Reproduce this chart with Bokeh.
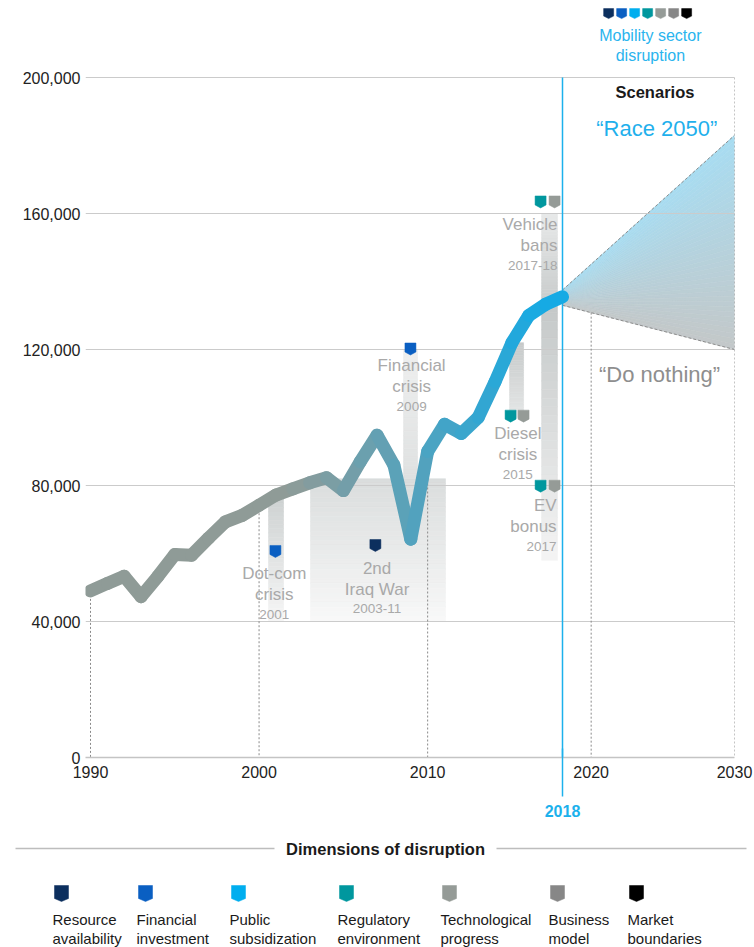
import numpy as np
from bokeh.plotting import figure
from bokeh.models import Range1d, FixedTicker, NumeralTickFormatter, LinearAxis
from bokeh.layouts import column
from bokeh.embed import file_html
from bokeh.resources import INLINE
from bokeh.core.properties import value

FONT = "Liberation Sans"

# ------------------------------------------------------------------ data
years = list(range(1990, 2019))
registrations = [49000, 51200, 53300, 47300, 53300, 59700, 59500, 64500, 69300, 71200,
                 74200, 77200, 79000, 80800, 82300, 78500, 87000, 94800, 86000, 64200,
                 90000, 98000, 95300, 100000, 110500, 122000, 130000, 133300, 135500]

y_ticks = [0, 40000, 80000, 120000, 160000, 200000]
x_tick_years = [1990, 2000, 2010, 2020, 2030]
drop_line_years = [1990, 2000, 2010]
today_year = 2018

scenario_years = [2018, 2030]
race_2050 = [137500, 183000]
do_nothing = [133000, 120000]

event_titles = [("Dot-com", "crisis"), ("2nd", "Iraq War"), ("Financial", "crisis"),
                ("Diesel", "crisis"), ("EV", "bonus"), ("Vehicle", "bans")]
event_periods = ["2001", "2003-11", "2009", "2015", "2017", "2017-18"]
event_start = [2000.56, 2003.05, 2008.57, 2014.86, 2016.76, 2016.76]
event_end = [2001.45, 2011.06, 2009.40, 2015.69, 2017.70, 2017.70]
event_band_top = [77200, 82000, 120000, 122000, 133300, 160000]
event_band_bottom = [40000, 40000, 82000, 100000, 58000, 133300]
event_label_x = [2000.9, 2007.0, 2009.05, 2015.35, 2017.65, 2017.7]
event_label_y = [54000, 55700, 115200, 95150, 74000, 156700]

marker_x = [2000.97, 2006.9, 2008.98, 2014.92, 2015.69, 2016.7, 2017.53, 2016.7, 2017.53]
marker_y = [60600, 62350, 120150, 100400, 100400, 79800, 79800, 163400, 163400]
marker_dim = [1, 0, 1, 3, 4, 3, 4, 3, 4]

dimension_names = [("Resource", "availability"), ("Financial", "investment"),
                   ("Public", "subsidization"), ("Regulatory", "environment"),
                   ("Technological", "progress"), ("Business", "model"),
                   ("Market", "boundaries")]

# ------------------------------------------------------------------ styles
dimension_colors = ["#0c2f5e", "#0a5fc2", "#00aeef", "#00979e", "#959b97", "#878787", "#000000"]
event_label_align = ["center", "center", "center", "center", "right", "right"]
band_colors = [("#cdd1d1", "#f6f6f6"), ("#dadddd", "#f8f8f8"), ("#eeefef", "#dfe1e1"),
               ("#c6caca", "#e6e7e7"), ("#c4c8c8", "#f4f4f4"), ("#e8e9e9", "#c8cccc")]
BLUE = "#1cb1ec"
LABEL_GRAY = "#a9a9a9"
LINE_GRAY = "#8f9b97"
LINE_BLUE = "#16aae4"

# ------------------------------------------------------------------ layout constants
W = 754
H1, H2 = 825, 122
BORDER_L, BORDER_R, BORDER_B = 85, 20, 68
FRAME_W = W - BORDER_L - BORDER_R
FRAME_H = H1 - BORDER_B
PX_PER_YEAR = 472 / 28
UNITS_PER_PX = 200000 / 680
Y_START = 0
Y_END = Y_START + FRAME_H * UNITS_PER_PX
X0 = 1990 - 5 / PX_PER_YEAR
X1 = X0 + FRAME_W / PX_PER_YEAR
TODAY_PX = (today_year - X0) * PX_PER_YEAR
SCEN_PX = (FRAME_W - TODAY_PX) / (scenario_years[1] - scenario_years[0])
S0 = today_year - TODAY_PX / SCEN_PX
S1 = scenario_years[1]


def scen_to_main(s):
    return X0 + (s - S0) * SCEN_PX / PX_PER_YEAR


def hex2rgb(h):
    h = h.lstrip("#")
    return tuple(int(h[i:i + 2], 16) for i in (0, 2, 4))


def mix(a, b, t):
    a, b = hex2rgb(a), hex2rgb(b)
    return "#%02x%02x%02x" % tuple(int(round(a[i] + (b[i] - a[i]) * t)) for i in range(3))


def badge(xc, yc, w, h, tip, px_x, px_y):
    """pentagon 'pennant' marker, sizes in px converted to data units"""
    dx = w / 2 / px_x
    top = yc + h / 2 * px_y
    bot = yc - h / 2 * px_y
    sh = bot + tip * px_y
    return [xc - dx, xc + dx, xc + dx, xc, xc - dx], [top, top, sh, bot, sh]


# ------------------------------------------------------------------ main figure
p = figure(width=W, height=H1, x_range=Range1d(X0, X1), y_range=Range1d(Y_START, Y_END),
           output_backend="svg", toolbar_location=None,
           min_border_left=BORDER_L, min_border_right=BORDER_R,
           min_border_top=0, min_border_bottom=BORDER_B,
           outline_line_color=None, border_fill_color="white", background_fill_color="white")
p.frame_align = False
p.extra_x_ranges = {"scen": Range1d(S0, S1)}

# x axis (history scale up to 2018, compressed scenario scale afterwards)
xt = []
for yr in x_tick_years:
    t = float(yr) if yr <= today_year else min(scen_to_main(yr), X1 - 1e-6)
    xt.append(round(t, 6))
ax = p.xaxis[0]
ax.ticker = FixedTicker(ticks=xt)
ax.major_label_overrides = {t: str(yr) for t, yr in zip(xt, x_tick_years)}
ax.axis_line_color = "#c4c4c4"
ax.axis_line_width = 1.5
ax.major_tick_line_color = None
ax.major_tick_out = 0
ax.major_tick_in = 0
ax.minor_tick_line_color = None
ax.minor_tick_out = 0
ax.minor_tick_in = 0
ax.major_label_text_font = FONT
ax.major_label_text_font_size = "16px"
ax.major_label_text_color = "#222222"
ax.major_label_standoff = 8

# second axis marking today (blue tick crossing below the axis)
ax2 = LinearAxis(ticker=FixedTicker(ticks=[today_year]))
ax2.axis_line_color = None
ax2.major_tick_line_color = BLUE
ax2.major_tick_line_width = 1.5
ax2.major_tick_in = 32
ax2.major_tick_out = 16
ax2.minor_tick_line_color = None
ax2.major_label_text_font = FONT
ax2.major_label_text_font_size = "16px"
ax2.major_label_text_font_style = "bold"
ax2.major_label_text_color = BLUE
ax2.major_label_standoff = 8
p.add_layout(ax2, "below")

ay = p.yaxis[0]
ay.ticker = FixedTicker(ticks=y_ticks)
ay.formatter = NumeralTickFormatter(format="0,0")
ay.axis_line_color = None
ay.major_tick_line_color = None
ay.minor_tick_line_color = None
ay.major_tick_out = 0
ay.major_tick_in = 0
ay.major_label_text_font = FONT
ay.major_label_text_font_size = "16px"
ay.major_label_text_color = "#222222"
ay.major_label_standoff = 5

p.xgrid.visible = False
p.ygrid[0].ticker = FixedTicker(ticks=y_ticks[1:])
p.ygrid.grid_line_color = "#cbcbcb"
p.ygrid.grid_line_width = 1

# event bands (vertical gradients)
NS = 30
bl, br, bt, bb, bc = [], [], [], [], []
for i in range(len(event_start)):
    edges = np.linspace(event_band_top[i], event_band_bottom[i], NS + 1)
    for k in range(NS):
        bl.append(event_start[i]); br.append(event_end[i])
        bt.append(edges[k]); bb.append(edges[k + 1])
        bc.append(mix(band_colors[i][0], band_colors[i][1], (k + 0.5) / NS))
p.quad(left=bl, right=br, top=bt, bottom=bb, fill_color=bc, line_color=bc,
       line_width=0.6, level="image")

# scenario cone (gradient from light blue to grey)
NC = 40
cx, cy, cc = [], [], []
for k in range(NC):
    f0, f1 = k / NC, (k + 1) / NC
    l0 = race_2050[0] + (do_nothing[0] - race_2050[0]) * f0
    l1 = race_2050[0] + (do_nothing[0] - race_2050[0]) * f1
    r0 = race_2050[1] + (do_nothing[1] - race_2050[1]) * f0
    r1 = race_2050[1] + (do_nothing[1] - race_2050[1]) * f1
    cx.append([scenario_years[0], scenario_years[1], scenario_years[1], scenario_years[0]])
    cy.append([l0, r0, r1, l1])
    cc.append(mix("#a8dcf1", "#c3c8c9", (k + 0.5) / NC))
p.patches(xs=cx, ys=cy, fill_color=cc, line_color=cc, line_width=0.6,
          x_range_name="scen", level="image")
p.segment(x0=[scenario_years[0]] * 2, x1=[scenario_years[1]] * 2,
          y0=[race_2050[0], do_nothing[0]], y1=[race_2050[1], do_nothing[1]],
          line_color="#8c8c8c", line_width=1, line_dash="3 2", x_range_name="scen")

# dashed drop lines
reg = dict(zip(years, registrations))
p.segment(x0=drop_line_years, x1=drop_line_years,
          y0=[reg[y] for y in drop_line_years], y1=[Y_START] * len(drop_line_years),
          line_color="#8a8a8a", line_width=1, line_dash="2 2")
dn2020 = do_nothing[0] + (do_nothing[1] - do_nothing[0]) * (2020 - scenario_years[0]) / (scenario_years[1] - scenario_years[0])
p.segment(x0=[2020, scenario_years[1]], x1=[2020, scenario_years[1]],
          y0=[dn2020, y_ticks[-1]], y1=[Y_START, Y_START],
          line_color="#8a8a8a", line_width=1, line_dash="2 2", x_range_name="scen")

# 2018 line
p.segment(x0=[today_year], x1=[today_year], y0=[y_ticks[-1]], y1=[Y_START],
          line_color=BLUE, line_width=1.5)

# main line with colour gradient
seg_col = []
for a, b in zip(years[:-1], years[1:]):
    t = min(max(((a + b) / 2 - 2002) / 15, 0), 1)
    seg_col.append(mix(LINE_GRAY, LINE_BLUE, t))
p.segment(x0=years[:-1], x1=years[1:], y0=registrations[:-1], y1=registrations[1:],
          line_color=seg_col, line_width=13, line_cap="round")

# event markers
mxs, mys, mcs = [], [], []
for x, y, d in zip(marker_x, marker_y, marker_dim):
    xs, ys = badge(x, y, 11, 12, 3, PX_PER_YEAR, UNITS_PER_PX)
    mxs.append(xs); mys.append(ys); mcs.append(dimension_colors[d])
p.patches(xs=mxs, ys=mys, fill_color=mcs, line_color=mcs, line_width=0.5)

# event labels
for i in range(len(event_titles)):
    ys = [event_label_y[i], event_label_y[i] - 21 * UNITS_PER_PX]
    p.text(x=[event_label_x[i]] * 2, y=ys, text=list(event_titles[i]),
           text_font=value(FONT), text_font_size="17px", text_color=LABEL_GRAY,
           text_align=event_label_align[i], text_baseline="middle")
    p.text(x=[event_label_x[i]], y=[ys[1] - 19.5 * UNITS_PER_PX], text=[event_periods[i]],
           text_font=value(FONT), text_font_size="13.5px", text_color=LABEL_GRAY,
           text_align=event_label_align[i], text_baseline="middle")

# scenario texts
p.text(x=[2024.45], y=[195600], text=["Scenarios"], text_font=value(FONT),
       text_font_size="16.5px", text_font_style="bold", text_color="#1a1a1a",
       text_align="center", text_baseline="middle", x_range_name="scen")
p.text(x=[2024.58], y=[185000], text=["\u201cRace 2050\u201d"], text_font=value(FONT),
       text_font_size="22px", text_color="#1fb0ec",
       text_align="center", text_baseline="middle", x_range_name="scen")
p.text(x=[2024.77], y=[112650], text=["\u201cDo nothing\u201d"], text_font=value(FONT),
       text_font_size="22px", text_color="#8e8e8e",
       text_align="center", text_baseline="middle", x_range_name="scen")
p.text(x=[2024.13, 2024.13], y=[212350, 206450], text=["Mobility sector", "disruption"],
       text_font=value(FONT), text_font_size="16px", text_color="#2ab4ee",
       text_align="center", text_baseline="middle", x_range_name="scen")

# mini key of dimensions (top right)
kxs, kys = [], []
n = len(dimension_colors)
for i in range(n):
    xc = 2023.94 + (i - (n - 1) / 2) * 13 / SCEN_PX
    xs, ys = badge(xc, 218800, 10, 10, 2.5, SCEN_PX, UNITS_PER_PX)
    kxs.append(xs); kys.append(ys)
p.patches(xs=kxs, ys=kys, fill_color=dimension_colors, line_color=dimension_colors,
          line_width=0.5, x_range_name="scen")

# ------------------------------------------------------------------ legend figure
q = figure(width=W, height=H2, x_range=Range1d(0, W), y_range=Range1d(H2, 0),
           output_backend="svg", toolbar_location=None, x_axis_type=None, y_axis_type=None,
           min_border=0, outline_line_color=None)
q.frame_align = False
q.grid.visible = False
q.text(x=[385], y=[23], text=["Dimensions of disruption"], text_font=value(FONT),
       text_font_size="16.5px", text_font_style="bold", text_color="#1a1a1a",
       text_align="center", text_baseline="middle")
q.segment(x0=[15, 496], x1=[274, 746], y0=[23, 23], y1=[23, 23],
          line_color="#bdbdbd", line_width=1.5)
legend_left = [52, 136, 229, 337, 440, 548, 627]
lxs, lys = [], []
for i, xl in enumerate(legend_left):
    xs, ys = badge(xl + 9, 68, 14, 16, 3, 1, -1)
    lxs.append(xs); lys.append(ys)
    q.text(x=[xl, xl], y=[94, 113], text=list(dimension_names[i]), text_font=value(FONT),
           text_font_size="15px", text_color="#1a1a1a", text_align="left",
           text_baseline="middle")
q.patches(xs=lxs, ys=lys, fill_color=dimension_colors, line_color=dimension_colors,
          line_width=0.5)

layout = column(p, q)
open("out.html", "w").write(file_html(layout, INLINE))
